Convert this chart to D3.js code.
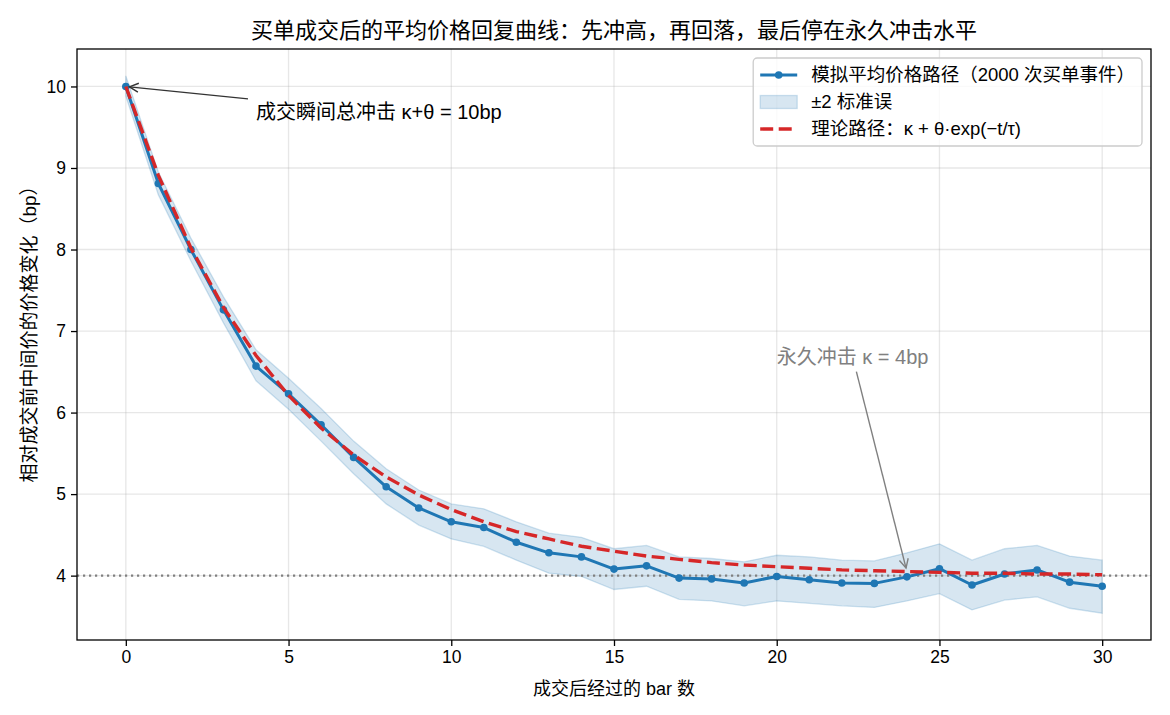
<!DOCTYPE html>
<html>
<head>
<meta charset="utf-8">
<script src="https://cdn.jsdelivr.net/npm/d3@7/dist/d3.min.js"></script>
<style>
  body { margin: 0; background: #fff; }
  svg text { font-family: "Liberation Sans", "Noto Sans CJK SC", sans-serif; }
</style>
</head>
<body>
<div id="chart"></div>
<script>
/* global d3 */

// 横轴：成交后经过的 bar 数
var barIndex = [0, 1, 2, 3, 4, 5, 6, 7, 8, 9, 10, 11, 12, 13, 14, 15,
  16, 17, 18, 19, 20, 21, 22, 23, 24, 25, 26, 27, 28, 29, 30];

// 模拟平均价格路径（bp）
var meanPath = [10.00, 8.81, 8.00, 7.26, 6.57, 6.23, 5.85, 5.45, 5.09, 4.83, 4.66,
  4.59, 4.41, 4.28, 4.23, 4.08, 4.12, 3.97, 3.96, 3.91, 3.99, 3.95,
  3.91, 3.905, 3.985, 4.085, 3.885, 4.02, 4.07, 3.92, 3.87];

// ±2 标准误 的上下沿
var upperBand = [10.13, 8.95, 8.14, 7.42, 6.77, 6.42, 6.05, 5.65, 5.31, 5.05, 4.88,
  4.82, 4.66, 4.52, 4.47, 4.33, 4.37, 4.23, 4.21, 4.17, 4.25, 4.23,
  4.19, 4.18, 4.28, 4.39, 4.19, 4.33, 4.37, 4.24, 4.19];
var lowerBand = [9.88, 8.67, 7.86, 7.10, 6.39, 6.04, 5.65, 5.25, 4.88, 4.62, 4.45,
  4.36, 4.19, 4.03, 3.99, 3.83, 3.87, 3.71, 3.69, 3.63, 3.69, 3.66,
  3.63, 3.61, 3.69, 3.78, 3.58, 3.70, 3.74, 3.60, 3.54];

// 理论路径 κ + θ·exp(−t/τ) 在各 bar 上的取值
var theoryPath = [10.00, 8.91, 8.02, 7.29, 6.70, 6.21, 5.81, 5.48, 5.21, 4.99, 4.81,
  4.66, 4.54, 4.45, 4.36, 4.30, 4.24, 4.20, 4.16, 4.13, 4.11, 4.09,
  4.07, 4.06, 4.05, 4.04, 4.03, 4.03, 4.02, 4.02, 4.01];

// 永久冲击水平
var permanentImpact = 4;

// 刻度
var xTickValues = [0, 5, 10, 15, 20, 25, 30];
var yTickValues = [4, 5, 6, 7, 8, 9, 10];

// 文字
var titleText = '买单成交后的平均价格回复曲线：先冲高，再回落，最后停在永久冲击水平';
var xLabelText = '成交后经过的 bar 数';
var yLabelText = '相对成交前中间价的价格变化（bp）';
var legendLabels = ['模拟平均价格路径（2000 次买单事件）', '±2 标准误', '理论路径：κ + θ·exp(−t/τ)'];

(function() {
  var width = 1170;
  var height = 715;
  var margin = { top: 49, right: 19, bottom: 75, left: 77 };
  var w = width - margin.left - margin.right;
  var h = height - margin.top - margin.bottom;

  var blue = '#1f77b4';
  var red = '#d62728';

  var svg = d3.select('#chart').append('svg')
    .attr('width', width).attr('height', height);

  var g = svg.append('g')
    .attr('transform', 'translate(' + margin.left + ',' + margin.top + ')');

  // 数据范围两侧各留 5% 的边距
  var xMin = d3.min(barIndex), xMax = d3.max(barIndex);
  var xPad = (xMax - xMin) * 0.05;
  var x = d3.scaleLinear().domain([xMin - xPad, xMax + xPad]).range([0, w]);

  var yMin = d3.min(lowerBand), yMax = d3.max(upperBand);
  var yPad = (yMax - yMin) * 0.05;
  var y = d3.scaleLinear().domain([yMin - yPad, yMax + yPad]).range([h, 0]);

  svg.append('defs').append('clipPath').attr('id', 'plotClip')
    .append('rect').attr('width', w).attr('height', h);

  // 网格线
  var grid = g.append('g').attr('class', 'grid');
  grid.selectAll('.gx').data(xTickValues).enter()
    .append('line')
    .attr('x1', function(d) { return x(d); }).attr('x2', function(d) { return x(d); })
    .attr('y1', 0).attr('y2', h)
    .attr('stroke', '#b0b0b0').attr('stroke-opacity', 0.3).attr('stroke-width', 1.3);
  grid.selectAll('.gy').data(yTickValues).enter()
    .append('line')
    .attr('y1', function(d) { return y(d); }).attr('y2', function(d) { return y(d); })
    .attr('x1', 0).attr('x2', w)
    .attr('stroke', '#b0b0b0').attr('stroke-opacity', 0.3).attr('stroke-width', 1.3);

  var plot = g.append('g').attr('clip-path', 'url(#plotClip)');

  // ±2 标准误 区域
  var area = d3.area()
    .x(function(d, i) { return x(barIndex[i]); })
    .y0(function(d, i) { return y(lowerBand[i]); })
    .y1(function(d, i) { return y(upperBand[i]); });
  plot.append('path')
    .datum(barIndex)
    .attr('d', area)
    .attr('fill', blue).attr('fill-opacity', 0.18)
    .attr('stroke', blue).attr('stroke-opacity', 0.2).attr('stroke-width', 1.3);

  // 永久冲击的水平虚线
  plot.append('line')
    .attr('x1', 0).attr('x2', w)
    .attr('y1', y(permanentImpact)).attr('y2', y(permanentImpact))
    .attr('stroke', '#808080').attr('stroke-width', 2.2)
    .attr('stroke-dasharray', '2.2,3.8');

  // 模拟平均价格路径
  var line = d3.line()
    .x(function(d, i) { return x(barIndex[i]); })
    .y(function(d) { return y(d); });
  plot.append('path')
    .datum(meanPath)
    .attr('d', line)
    .attr('fill', 'none').attr('stroke', blue).attr('stroke-width', 3)
    .attr('stroke-linejoin', 'round');
  plot.selectAll('.dot').data(meanPath).enter()
    .append('circle')
    .attr('cx', function(d, i) { return x(barIndex[i]); })
    .attr('cy', function(d) { return y(d); })
    .attr('r', 3.8)
    .attr('fill', blue);

  // 理论路径
  plot.append('path')
    .datum(theoryPath)
    .attr('d', line)
    .attr('fill', 'none').attr('stroke', red).attr('stroke-width', 3.4)
    .attr('stroke-dasharray', '13,5.5');

  // 坐标轴
  var xAxis = g.append('g')
    .attr('transform', 'translate(0,' + h + ')')
    .call(d3.axisBottom(x).tickValues(xTickValues).tickSize(6).tickPadding(5));
  var yAxis = g.append('g')
    .call(d3.axisLeft(y).tickValues(yTickValues).tickSize(6).tickPadding(5));
  [xAxis, yAxis].forEach(function(ax) {
    ax.select('.domain').remove();
    ax.selectAll('line').attr('stroke', '#000').attr('stroke-width', 1.3);
    ax.selectAll('text').attr('font-size', 17.5).attr('fill', '#000')
      .style('font-family', '"Liberation Sans", "Noto Sans CJK SC", sans-serif');
  });

  // 外框
  g.append('rect')
    .attr('width', w).attr('height', h)
    .attr('fill', 'none').attr('stroke', '#000').attr('stroke-width', 1.3);

  // 标题与轴标题
  svg.append('text')
    .attr('x', margin.left + w / 2).attr('y', 38)
    .attr('text-anchor', 'middle').attr('font-size', 22)
    .text(titleText);
  svg.append('text')
    .attr('x', margin.left + w / 2).attr('y', 695)
    .attr('text-anchor', 'middle').attr('font-size', 18)
    .text(xLabelText);
  svg.append('text')
    .attr('transform', 'translate(36,' + (margin.top + h / 2 - 15) + ') rotate(-90)')
    .attr('text-anchor', 'middle').attr('font-size', 19)
    .text(yLabelText);

  // 带箭头的注释
  function annotate(label, tx, ty, px, py, color, textColor) {
    var t = g.append('text')
      .attr('x', x(tx)).attr('y', y(ty))
      .attr('font-size', 20).attr('fill', textColor)
      .text(label);
    var bb = t.node().getBBox();
    var cx = bb.x + bb.width / 2, cy = bb.y + bb.height / 2;
    var ex = x(px), ey = y(py);
    var dx = ex - cx, dy = ey - cy;
    // 从文字框边缘出发
    var hw = bb.width / 2 + 8, hh = bb.height / 2 + 4;
    var s = Math.min(Math.abs(hw / dx) || Infinity, Math.abs(hh / dy) || Infinity);
    var sx = cx + dx * s, sy = cy + dy * s;
    var len = Math.sqrt(dx * dx + dy * dy);
    var ux = dx / len, uy = dy / len;
    var tipX = ex - ux * 3.6, tipY = ey - uy * 3.6;
    g.append('line')
      .attr('x1', sx).attr('y1', sy).attr('x2', tipX).attr('y2', tipY)
      .attr('stroke', color).attr('stroke-width', 1.4);
    var hl = 9, hwid = 4.5;
    var bx = tipX - ux * hl, by = tipY - uy * hl;
    g.append('path')
      .attr('d', 'M' + (bx - uy * hwid) + ',' + (by + ux * hwid) +
        'L' + tipX + ',' + tipY +
        'L' + (bx + uy * hwid) + ',' + (by - ux * hwid))
      .attr('fill', 'none').attr('stroke', color).attr('stroke-width', 1.4);
  }
  annotate('成交瞬间总冲击 κ+θ = 10bp', 4, 9.6, 0, 10, '#333', '#000');
  annotate('永久冲击 κ = 4bp', 20, 6.6, 24, 4.05, '#808080', '#808080');

  // 图例
  var legend = g.append('g');
  var rowH = 27;
  var legendText = legend.selectAll('text').data(legendLabels).enter()
    .append('text')
    .attr('x', 0)
    .attr('y', function(d, i) { return i * rowH; })
    .attr('dy', '0.35em')
    .attr('font-size', 18.5)
    .text(function(d) { return d; });
  var maxW = 0;
  legendText.each(function() { maxW = Math.max(maxW, this.getComputedTextLength()); });
  var handleLen = 37, handlePad = 14, boxPad = 7;
  var boxW = boxPad + handleLen + handlePad + maxW + boxPad;
  var boxH = boxPad * 2 + rowH * 2 + 20;
  var bx0 = w - 9 - boxW, by0 = 9;
  legend.insert('rect', 'text')
    .attr('x', 0).attr('y', 0).attr('width', boxW).attr('height', boxH)
    .attr('rx', 4)
    .attr('fill', '#fff').attr('fill-opacity', 0.8)
    .attr('stroke', '#cccccc').attr('stroke-width', 1.3);
  var rowY0 = boxPad + 10;
  legendText.attr('x', boxPad + handleLen + handlePad)
    .attr('y', function(d, i) { return rowY0 + i * rowH; });
  var hx0 = boxPad, hx1 = boxPad + handleLen;
  legend.append('line')
    .attr('x1', hx0).attr('x2', hx1).attr('y1', rowY0).attr('y2', rowY0)
    .attr('stroke', blue).attr('stroke-width', 3);
  legend.append('circle')
    .attr('cx', (hx0 + hx1) / 2).attr('cy', rowY0).attr('r', 3.8).attr('fill', blue);
  legend.append('rect')
    .attr('x', hx0).attr('y', rowY0 + rowH - 6.5)
    .attr('width', handleLen).attr('height', 13)
    .attr('fill', blue).attr('fill-opacity', 0.18)
    .attr('stroke', blue).attr('stroke-opacity', 0.2).attr('stroke-width', 1.3);
  legend.append('line')
    .attr('x1', hx0).attr('x2', hx1)
    .attr('y1', rowY0 + rowH * 2).attr('y2', rowY0 + rowH * 2)
    .attr('stroke', red).attr('stroke-width', 3.4).attr('stroke-dasharray', '13,5.5');
  legend.attr('transform', 'translate(' + bx0 + ',' + by0 + ')');
})();
</script>
</body>
</html>
